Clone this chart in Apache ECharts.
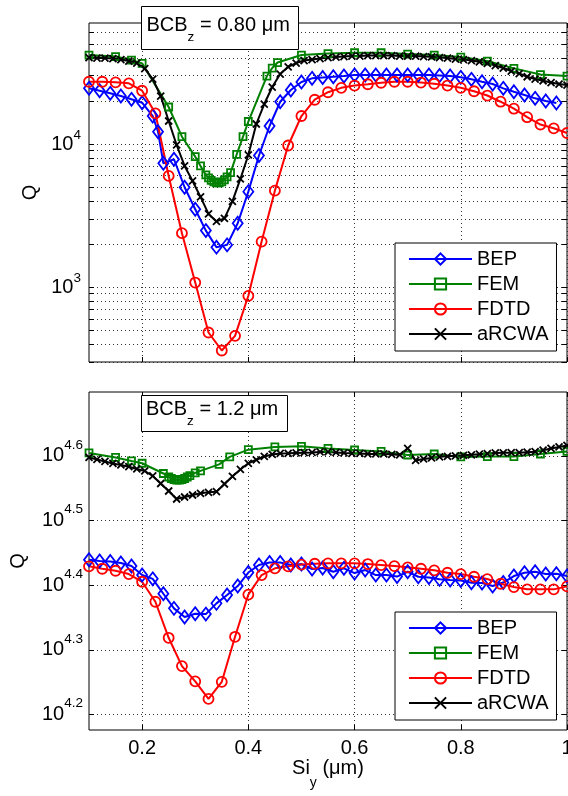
<!DOCTYPE html>
<html>
<head>
<meta charset="utf-8">
<script src="https://cdn.jsdelivr.net/npm/echarts@6/dist/echarts.min.js"></script>
<style>
  html, body { margin: 0; padding: 0; background: #fff; }
  #chart { width: 568px; height: 796px; }
</style>
</head>
<body>
<div id="chart"></div>
<script>
// ---- Series names ----
const seriesNames = ['BEP', 'FEM', 'FDTD', 'aRCWA'];

// ---- Axis ticks ----
const xTicks = [0.2, 0.4, 0.6, 0.8, 1.0];
const topYLabelValues = [1000, 10000];
const topYTickValues = [300, 400, 500, 600, 700, 800, 900,
  1000, 2000, 3000, 4000, 5000, 6000, 7000, 8000, 9000,
  10000, 20000, 30000, 40000, 50000, 60000];
const bottomYExponents = [4.2, 4.3, 4.4, 4.5, 4.6];
const topYRange = [300, 70000];
const bottomYRange = [15000, 50000];

// ---- Panel annotations ----
const topCaption = ['BCB', 'z', ' = 0.80 \u03bcm'];
const bottomCaption = ['BCB', 'z', ' = 1.2 \u03bcm'];

// ---- Shared sampling positions (Si_y, um) ----
const fdtdX = [0.100, 0.125, 0.150, 0.175, 0.200, 0.225, 0.250, 0.275, 0.300, 0.325,
  0.350, 0.375, 0.400, 0.425, 0.450, 0.475, 0.500, 0.525, 0.550, 0.575,
  0.600, 0.625, 0.650, 0.675, 0.700, 0.725, 0.750, 0.775, 0.800, 0.825,
  0.850, 0.875, 0.900, 0.925, 0.950, 0.975, 1.000];
const arcwaX = [0.100, 0.115, 0.130, 0.145, 0.160, 0.175, 0.190, 0.205, 0.220, 0.235,
  0.250, 0.265, 0.280, 0.295, 0.310, 0.325, 0.340, 0.355, 0.370, 0.385,
  0.400, 0.415, 0.430, 0.445, 0.460, 0.475, 0.490, 0.505, 0.520, 0.535,
  0.550, 0.565, 0.580, 0.595, 0.610, 0.625, 0.640, 0.655, 0.670, 0.685,
  0.700, 0.715, 0.730, 0.745, 0.760, 0.775, 0.790, 0.805, 0.820, 0.835,
  0.850, 0.865, 0.880, 0.895, 0.910, 0.925, 0.940, 0.955, 0.970, 0.985, 1.000];

// ---- BCB_z = 0.80 um ----
const bepXTop = [0.10, 0.12, 0.14, 0.16, 0.18, 0.20, 0.22, 0.23, 0.24, 0.26,
  0.28, 0.30, 0.32, 0.34, 0.36, 0.38, 0.40, 0.42, 0.44, 0.46,
  0.48, 0.50, 0.52, 0.54, 0.56, 0.58, 0.60, 0.62, 0.64, 0.66,
  0.68, 0.70, 0.72, 0.74, 0.76, 0.78, 0.80, 0.82, 0.84, 0.86,
  0.88, 0.90, 0.92, 0.94, 0.96, 0.98];
const bepQTop = [24473, 23547, 22583, 21625, 20509, 19418, 15682, 12185, 7334, 7821,
  4987, 3502, 2483, 1902, 1973, 2797, 4647, 8313, 13354, 19733,
  23813, 27080, 28739, 29111, 29487, 29821, 30304, 30304, 30304, 30304,
  30304, 30304, 30304, 30304, 30062, 29821, 29205, 28281, 27211, 26224,
  24473, 23172, 21976, 20840, 19955, 19324];

const femXTop = [0.10, 0.15, 0.18, 0.20, 0.25, 0.275, 0.30, 0.31,
  0.32, 0.325, 0.33, 0.335, 0.34, 0.345, 0.35, 0.355, 0.36,
  0.3665, 0.378, 0.39, 0.40, 0.435, 0.445, 0.455,
  0.50, 0.55, 0.60, 0.65, 0.70, 0.75, 0.80, 0.85, 0.90, 0.95, 1.00];
const femQTop = [41790, 40795, 38563, 36572, 18121, 11245, 8154, 7022,
  6077, 5791, 5563, 5430, 5344, 5344, 5430, 5608, 5884,
  6306, 8448, 11245, 14355, 29821, 33911, 37045,
  41790, 42810, 43363, 43363, 42467, 41790, 40468, 37949, 33748, 30549, 29821];

const fdtdQTop = [27211, 27211, 26950, 26520, 23547, 16376, 5980, 2382, 1077, 482,
  361, 457, 870, 2081, 4722, 9762, 15682, 20377, 22986, 24670,
  25599, 26140, 26778, 27211, 27211, 26863, 26350, 25599, 24670, 23359,
  21801, 19733, 17634, 15382, 13680, 12869, 11933];

const arcwaQTop = [40145, 39824, 39824, 39505, 38875, 37949, 36748, 33640, 28418, 21625,
  14471, 9841, 7022, 5519, 4267, 3247, 2879, 3021, 3970, 5699,
  8380, 13790, 19017, 24990, 30795, 34627, 36748, 38254, 38875, 39505,
  40145, 40468, 40795, 41124, 41124, 41456, 41456, 41456, 41456, 41124,
  41124, 41124, 40795, 40664, 40145, 39824, 39189, 38875, 38254, 37524,
  36572, 35301, 33911, 32316, 31044, 29487, 28418, 27652, 26863, 26224, 25806];

// ---- BCB_z = 1.2 um ----
const bepXBottom = [0.10, 0.12, 0.14, 0.16, 0.18, 0.20, 0.22, 0.24, 0.26, 0.28,
  0.30, 0.32, 0.34, 0.36, 0.38, 0.40, 0.42, 0.44, 0.46, 0.48,
  0.50, 0.52, 0.54, 0.56, 0.58, 0.60, 0.62, 0.64, 0.66, 0.68,
  0.70, 0.72, 0.74, 0.76, 0.78, 0.80, 0.82, 0.84, 0.86, 0.88,
  0.90, 0.92, 0.94, 0.96, 0.98, 1.00];
const bepQBottom = [27509, 27382, 27333, 27187, 26898, 26049, 25699, 24370, 23134, 22428,
  22693, 22668, 23550, 24257, 25048, 26282, 26994, 27236, 27236, 26994,
  27091, 26612, 26707, 26358, 26679, 26236, 26518, 26049, 26049, 25910,
  26358, 25892, 25818, 25653, 25589, 25544, 25344, 25317, 25048, 25362,
  25956, 26264, 26358, 26142, 26170, 25956];

const femXBottom = [0.10, 0.15, 0.18, 0.20, 0.24,
  0.25, 0.255, 0.26, 0.265, 0.27, 0.275, 0.28, 0.285, 0.29,
  0.30, 0.31, 0.345, 0.365, 0.40, 0.45,
  0.50, 0.55, 0.60, 0.65, 0.70, 0.75, 0.80, 0.85, 0.90, 0.95, 1.00];
const femQBottom = [40240, 39600, 39110, 38790, 37400,
  36940, 36740, 36610, 36540, 36540, 36610, 36740, 36940, 37130,
  37480, 37750, 38630, 39680, 40720, 41120,
  41210, 40890, 40670, 40460, 39950, 40090, 39670, 39730, 39730, 40090, 40460];

const fdtdQBottom = [26870, 26641, 26452, 26142, 25434, 23685, 20832, 18833, 17840, 16755,
  17808, 20907, 24300, 26049, 26679, 26870, 27042, 27120, 27159, 27159,
  27159, 27091, 26994, 26898, 26774, 26641, 26489, 26264, 26142, 25892,
  25681, 25254, 24959, 24755, 24755, 24755, 25021];

const arcwaQBottom = [39627, 39317, 39038, 38761, 38554, 38321, 38008, 37739, 37072, 36094,
  35142, 34154, 34398, 34644, 34855, 34980, 35054, 36029, 37006, 37941,
  38788, 39276, 39740, 40024, 40167, 40196, 40239, 40282, 40311, 40383,
  40383, 40311, 40239, 40196, 40167, 40096, 40096, 40096, 40053, 39953,
  40919, 39178, 39387, 39528, 39698, 39768, 39839, 39910, 39982, 40067,
  40153, 40239, 40268, 40282, 40282, 40354, 40426, 40643, 40890, 41109, 41329];

// ---- Styling ----
const FONT = '"Liberation Sans", Arial, Helvetica, sans-serif';
const markerStyles = {
  BEP:   { color: '#0000ff', symbol: 'diamond', size: [10, 13] },
  FEM:   { color: '#008000', symbol: 'rect', size: 7 },
  FDTD:  { color: '#ff0000', symbol: 'circle', size: 10 },
  aRCWA: { color: '#000000', symbol: 'path://M0,0L10,10M10,0L0,10', size: 7 }
};
const dotted = { color: '#333', width: 1, type: [1, 3] };

function lineSeries(name, xs, qs, panel) {
  const m = markerStyles[name];
  return {
    type: 'line',
    name: name,
    xAxisIndex: panel * 2,
    yAxisIndex: panel * 2,
    data: xs.map((x, i) => [x, qs[i]]),
    symbol: m.symbol,
    symbolSize: m.size,
    showAllSymbol: true,
    lineStyle: { color: m.color, width: 2 },
    itemStyle: { color: 'rgba(0,0,0,0)', borderColor: m.color, borderWidth: 1.8 },
    emphasis: { disabled: true },
    animation: false
  };
}

function expLabel(v) {
  const e = Math.round(Math.log10(v) * 10) / 10;
  return '{b|10}{s|' + e + '}';
}

function xAxisPair(grid, showLabels) {
  const base = {
    type: 'value', gridIndex: grid, min: 0.1, max: 1.0,
    axisLine: { show: false },
    axisTick: { inside: true, length: 5, customValues: xTicks, lineStyle: { color: '#000', width: 1 } },
    splitLine: { show: false },
    axisLabel: { show: false }
  };
  const bottom = Object.assign({}, base, {
    position: 'bottom',
    splitLine: { show: true, lineStyle: dotted },
    axisLabel: {
      show: showLabels, customValues: xTicks, margin: 8,
      fontSize: 20, color: '#000', fontFamily: FONT,
      formatter: v => String(Math.round(v * 10) / 10)
    }
  });
  const top = Object.assign({}, base, { position: 'top' });
  return [bottom, top];
}

function yAxisPair(grid, range, tickValues, labelValues, labelMargin, supShift, nameGap) {
  const base = {
    type: 'log', logBase: 10, gridIndex: grid, min: range[0], max: range[1],
    axisLine: { show: false },
    axisTick: { inside: true, length: 5, customValues: tickValues, lineStyle: { color: '#000', width: 1 } },
    splitLine: { show: false },
    axisLabel: { show: false }
  };
  const left = Object.assign({}, base, {
    position: 'left',
    name: 'Q', nameLocation: 'middle', nameGap: nameGap,
    nameTextStyle: { fontSize: 20, color: '#000', fontFamily: FONT },
    splitLine: { show: true, lineStyle: dotted },
    axisLabel: {
      show: true, customValues: labelValues, margin: labelMargin,
      formatter: expLabel,
      rich: {
        b: { fontSize: 20, color: '#000', fontFamily: FONT },
        s: { fontSize: 13.5, color: '#000', fontFamily: FONT, padding: [0, 0, supShift * 2, 0] }
      }
    }
  });
  const right = Object.assign({}, base, { position: 'right' });
  return [left, right];
}

const bottomYValues = bottomYExponents.map(e => Math.pow(10, e));

function caption(parts, box, textX, textY) {
  return [
    { type: 'rect', z: 100, shape: { x: box[0], y: box[1], width: box[2], height: box[3] },
      style: { fill: '#fff', stroke: '#000', lineWidth: 1 } },
    { type: 'text', z: 101, x: textX, y: textY,
      style: {
        text: '{a|' + parts[0] + '}{s|' + parts[1] + '}{a|' + parts[2] + '}',
        align: 'left', verticalAlign: 'middle',
        rich: {
          a: { fontSize: 20, fill: '#000', fontFamily: FONT },
          s: { fontSize: 13.5, fill: '#000', fontFamily: FONT, padding: [24, 0, 0, 0] }
        }
      } }
  ];
}

const legendBase = {
  data: seriesNames, orient: 'vertical', left: 395,
  itemWidth: 63, itemHeight: 14, itemGap: 5,
  padding: [6, 8, 7, 13],
  backgroundColor: '#fff', borderColor: '#000', borderWidth: 1, borderRadius: 0,
  textStyle: { fontSize: 20, color: '#000', fontFamily: FONT },
  selectedMode: false, z: 50
};

const chart = echarts.init(document.getElementById('chart'), null, { renderer: 'canvas' });
chart.setOption({
  animation: false,
  backgroundColor: '#fff',
  textStyle: { fontFamily: FONT },
  grid: [
    { left: 89, top: 23, width: 478, height: 339, show: true, borderColor: '#000', borderWidth: 1,
      backgroundColor: '#fff', outerBoundsMode: 'none', containLabel: false },
    { left: 89, top: 392, width: 478, height: 338, show: true, borderColor: '#000', borderWidth: 1,
      backgroundColor: '#fff', outerBoundsMode: 'none', containLabel: false }
  ],
  xAxis: [
    ...xAxisPair(0, false),
    ...(() => {
      const pair = xAxisPair(1, true);
      pair[0].name = '{a|Si}{s|y}{a| (\u03bcm)}';
      pair[0].nameLocation = 'middle';
      pair[0].nameGap = 10;
      pair[0].nameTextStyle = {
        rich: {
          a: { fontSize: 20, color: '#000', fontFamily: FONT },
          s: { fontSize: 14, color: '#000', fontFamily: FONT, padding: [28, 0, 0, 0] }
        }
      };
      return pair;
    })()
  ],
  yAxis: [
    ...yAxisPair(0, topYRange, topYTickValues, topYLabelValues, 8, 9, 47),
    ...yAxisPair(1, bottomYRange, bottomYValues, bottomYValues, 6, 11, 61)
  ],
  legend: [
    Object.assign({}, legendBase, { top: 243 }),
    Object.assign({}, legendBase, { top: 612 })
  ],
  series: [
    lineSeries('BEP', bepXTop, bepQTop, 0),
    lineSeries('FEM', femXTop, femQTop, 0),
    lineSeries('FDTD', fdtdX, fdtdQTop, 0),
    lineSeries('aRCWA', arcwaX, arcwaQTop, 0),
    lineSeries('BEP', bepXBottom, bepQBottom, 1),
    lineSeries('FEM', femXBottom, femQBottom, 1),
    lineSeries('FDTD', fdtdX, fdtdQBottom, 1),
    lineSeries('aRCWA', arcwaX, arcwaQBottom, 1)
  ],
  graphic: [
    ...caption(topCaption, [141.5, 6.5, 157, 43], 146.5, 25),
    ...caption(bottomCaption, [141.5, 395.5, 146, 36], 146, 409)
  ]
});
</script>
</body>
</html>
